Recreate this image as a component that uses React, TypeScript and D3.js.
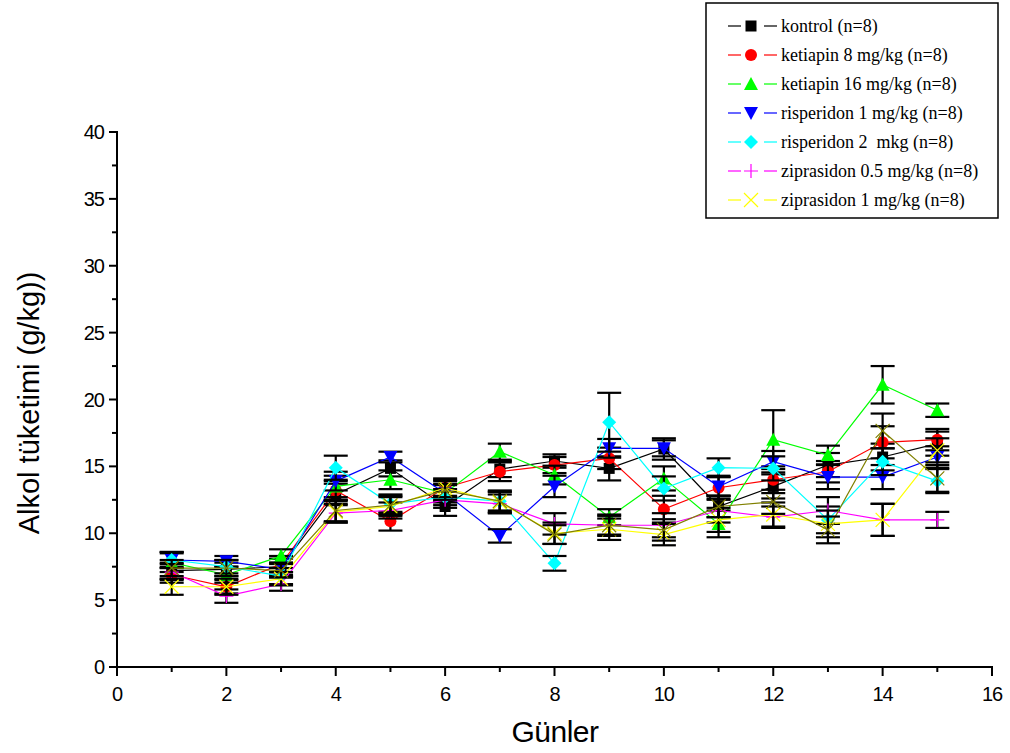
import React from "react";
import * as d3 from "d3";

// Days on the x axis
const days = [1, 2, 3, 4, 5, 6, 7, 8, 9, 10, 11, 12, 13, 14, 15];

// Mean alcohol intake (g/kg) per group and day
const kontrol = [7.2, 7.3, 7.5, 12.9, 14.85, 12.0, 14.8, 15.4, 14.85, 16.3, 12.0, 13.5, 15.1, 15.7, 16.7];
const ketiapin8 = [6.9, 6.0, 7.7, 13.2, 10.9, 13.4, 14.6, 15.1, 15.6, 11.8, 13.4, 14.0, 14.6, 16.8, 17.0];
const ketiapin16 = [7.8, 6.9, 8.3, 13.5, 14.0, 13.0, 16.1, 14.35, 11.2, 14.1, 10.7, 17.0, 15.85, 21.1, 19.2];
const risperidon1 = [8.0, 7.9, 7.3, 13.9, 15.7, 13.0, 9.8, 13.5, 16.35, 16.35, 13.5, 15.35, 14.2, 14.2, 15.7];
const risperidon2 = [8.0, 7.5, 6.8, 14.9, 12.2, 12.7, 12.4, 7.75, 18.3, 13.35, 14.9, 14.85, 11.0, 15.35, 13.9];
const ziprasidon05 = [7.1, 5.3, 6.2, 11.5, 11.7, 12.5, 12.2, 10.7, 10.6, 10.6, 11.7, 11.2, 11.7, 11.0, 11.0];
const ziprasidon1 = [6.0, 6.0, 6.6, 11.6, 12.0, 13.4, 12.3, 10.0, 10.3, 9.9, 11.0, 11.4, 10.7, 11.0, 16.2];
const extraGroup = [7.4, 7.4, 7.2, 11.7, 12.1, 13.2, 12.4, 9.9, 10.6, 10.25, 12.0, 12.35, 10.25, 17.65, 14.1];

// Standard errors per group and day
const kontrolErr = [0.6, 0.5, 0.6, 0.8, 0.6, 0.7, 0.6, 0.5, 0.9, 0.8, 0.8, 0.9, 0.9, 1.0, 0.9];
const ketiapin8Err = [0.6, 0.5, 0.6, 0.7, 0.7, 0.6, 0.7, 0.6, 0.8, 1.0, 0.9, 1.0, 0.8, 1.2, 0.8];
const ketiapin16Err = [0.7, 0.6, 0.5, 0.8, 0.7, 0.6, 0.6, 0.7, 0.6, 0.9, 1.0, 2.2, 0.7, 1.4, 0.5];
const risperidon1Err = [0.6, 0.4, 0.5, 0.7, 0.4, 0.7, 0.5, 0.8, 0.7, 0.6, 0.7, 0.8, 0.9, 0.9, 0.8];
const risperidon2Err = [0.6, 0.5, 0.6, 0.9, 0.7, 0.6, 0.8, 0.55, 2.2, 0.9, 0.7, 0.9, 1.0, 1.0, 0.9];
const ziprasidon05Err = [0.6, 0.5, 0.5, 0.7, 0.6, 0.6, 0.7, 0.8, 0.8, 0.9, 0.9, 0.8, 1.0, 1.2, 0.6];
const ziprasidon1Err = [0.6, 0.6, 0.5, 0.8, 0.7, 0.7, 0.8, 0.8, 0.8, 0.8, 0.9, 0.9, 1.0, 1.2, 0.9];
const extraGroupErr = [0.6, 0.6, 0.5, 0.8, 0.7, 0.7, 0.7, 0.7, 0.7, 0.8, 0.8, 0.9, 1.0, 1.3, 1.0];

const xTicks = [0, 2, 4, 6, 8, 10, 12, 14, 16];
const yTicks = [0, 5, 10, 15, 20, 25, 30, 35, 40];

type Shape = "square" | "circle" | "up" | "down" | "diamond" | "plus" | "cross";

interface Series {
  label: string | null;
  color: string;
  shape: Shape;
  values: number[];
  errors: number[];
}

const series: Series[] = [
  { label: "kontrol (n=8)", color: "#000000", shape: "square", values: kontrol, errors: kontrolErr },
  { label: "ketiapin 8 mg/kg (n=8)", color: "#ff0000", shape: "circle", values: ketiapin8, errors: ketiapin8Err },
  { label: "ketiapin 16 mg/kg (n=8)", color: "#00ff00", shape: "up", values: ketiapin16, errors: ketiapin16Err },
  { label: "risperidon 1 mg/kg (n=8)", color: "#0000ff", shape: "down", values: risperidon1, errors: risperidon1Err },
  { label: "risperidon 2  mkg (n=8)", color: "#00ffff", shape: "diamond", values: risperidon2, errors: risperidon2Err },
  { label: "ziprasidon 0.5 mg/kg (n=8)", color: "#ff00ff", shape: "plus", values: ziprasidon05, errors: ziprasidon05Err },
  { label: "ziprasidon 1 mg/kg (n=8)", color: "#ffff00", shape: "cross", values: ziprasidon1, errors: ziprasidon1Err },
  { label: null, color: "#808000", shape: "cross", values: extraGroup, errors: extraGroupErr },
];

const W = 1010;
const H = 753;
const x = d3.scaleLinear().domain([0, 16]).range([117, 992]);
const y = d3.scaleLinear().domain([0, 40]).range([667, 132]);

function Marker({ shape, color, cx, cy }: { shape: Shape; color: string; cx: number; cy: number }) {
  const s = 7;
  switch (shape) {
    case "square":
      return <rect x={cx - 5.5} y={cy - 5.5} width={11} height={11} fill={color} />;
    case "circle":
      return <circle cx={cx} cy={cy} r={6} fill={color} />;
    case "up":
      return <path d={`M${cx},${cy - s}L${cx + s},${cy + 6}L${cx - s},${cy + 6}Z`} fill={color} />;
    case "down":
      return <path d={`M${cx},${cy + s}L${cx + s},${cy - 6}L${cx - s},${cy - 6}Z`} fill={color} />;
    case "diamond":
      return <path d={`M${cx},${cy - s}L${cx + s},${cy}L${cx},${cy + s}L${cx - s},${cy}Z`} fill={color} />;
    case "plus":
      return (
        <path d={`M${cx - s},${cy}H${cx + s}M${cx},${cy - s}V${cy + s}`} stroke={color} strokeWidth={1.2} fill="none" />
      );
    case "cross":
      return (
        <path
          d={`M${cx - s},${cy - s}L${cx + s},${cy + s}M${cx + s},${cy - s}L${cx - s},${cy + s}`}
          stroke={color}
          strokeWidth={1.2}
          fill="none"
        />
      );
  }
}

export default function App() {
  const line = d3
    .line<number>()
    .x((_, i) => x(days[i]))
    .y((v) => y(v));

  const xMinor = d3.range(1, 16, 2);
  const yMinor = d3.range(2.5, 40, 5);
  const sans = "'Liberation Sans', Arial, sans-serif";
  const serif = "'Liberation Serif', 'Times New Roman', serif";
  const legendRows = series.filter((s) => s.label !== null);

  return (
    <svg
      width={W}
      height={H}
      viewBox={`0 0 ${W} ${H}`}
      style={{ position: "absolute", left: 0, top: 0, background: "#fff" }}
    >
      <rect width={W} height={H} fill="#fff" />

      {/* series: line, error bars, markers */}
      {series.map((s, si) => (
        <g key={si}>
          <path d={line(s.values) ?? ""} fill="none" stroke={s.color} strokeWidth={1.2} />
          {s.values.map((v, i) => {
            const cx = x(days[i]);
            const top = y(v + s.errors[i]);
            const bot = y(v - s.errors[i]);
            return (
              <g key={i} stroke="#000" strokeWidth={2.2}>
                <line x1={cx} x2={cx} y1={top} y2={bot} />
                <line x1={cx - 12} x2={cx + 12} y1={top} y2={top} />
                <line x1={cx - 12} x2={cx + 12} y1={bot} y2={bot} />
              </g>
            );
          })}
          {s.values.map((v, i) => (
            <Marker key={i} shape={s.shape} color={s.color} cx={x(days[i])} cy={y(v)} />
          ))}
        </g>
      ))}

      {/* y axis */}
      <g stroke="#000" strokeWidth={2}>
        <line x1={x(0)} x2={x(0)} y1={y(40) - 1} y2={y(0) + 1} />
        {yTicks.map((t) => (
          <line key={t} x1={x(0) - 8} x2={x(0)} y1={y(t)} y2={y(t)} />
        ))}
        {yMinor.map((t) => (
          <line key={t} x1={x(0) - 5} x2={x(0)} y1={y(t)} y2={y(t)} />
        ))}
      </g>
      {yTicks.map((t) => (
        <text
          key={t}
          x={x(0) - 13}
          y={y(t) + 7}
          textAnchor="end"
          fontFamily={sans}
          fontSize={20}
          letterSpacing={-1}
          fill="#000"
        >
          {t}
        </text>
      ))}

      {/* x axis */}
      <g stroke="#000" strokeWidth={2}>
        <line x1={x(0) - 1} x2={x(16) + 1} y1={y(0)} y2={y(0)} />
        {xTicks.map((t) => (
          <line key={t} x1={x(t)} x2={x(t)} y1={y(0)} y2={y(0) + 9} />
        ))}
        {xMinor.map((t) => (
          <line key={t} x1={x(t)} x2={x(t)} y1={y(0)} y2={y(0) + 5} />
        ))}
      </g>
      {xTicks.map((t) => (
        <text
          key={t}
          x={x(t)}
          y={y(0) + 34}
          textAnchor="middle"
          fontFamily={sans}
          fontSize={20}
          letterSpacing={-1}
          fill="#000"
        >
          {t}
        </text>
      ))}

      {/* axis titles */}
      <text x={555} y={742} textAnchor="middle" fontFamily={sans} fontSize={30} letterSpacing={-0.5} fill="#000">
        Günler
      </text>
      <text
        transform={`translate(39,403) rotate(-90)`}
        textAnchor="middle"
        fontFamily={sans}
        fontSize={29}
        letterSpacing={0}
        fill="#000"
      >
        Alkol tüketimi (g/kg))
      </text>

      {/* legend */}
      <rect x={706} y={3} width={292} height={215} fill="#fff" stroke="#000" strokeWidth={1.5} />
      {legendRows.map((s, i) => {
        const cy = 26 + i * 29;
        return (
          <g key={i}>
            <line x1={728} x2={741} y1={cy} y2={cy} stroke={s.color} strokeWidth={1.2} />
            <line x1={764} x2={777} y1={cy} y2={cy} stroke={s.color} strokeWidth={1.2} />
            <Marker shape={s.shape} color={s.color} cx={751} cy={cy} />
            <text
              x={781}
              y={cy + 6}
              fontFamily={serif}
              fontSize={18}
              fill="#000"
              style={{ whiteSpace: "pre" }}
            >
              {s.label}
            </text>
          </g>
        );
      })}
    </svg>
  );
}
